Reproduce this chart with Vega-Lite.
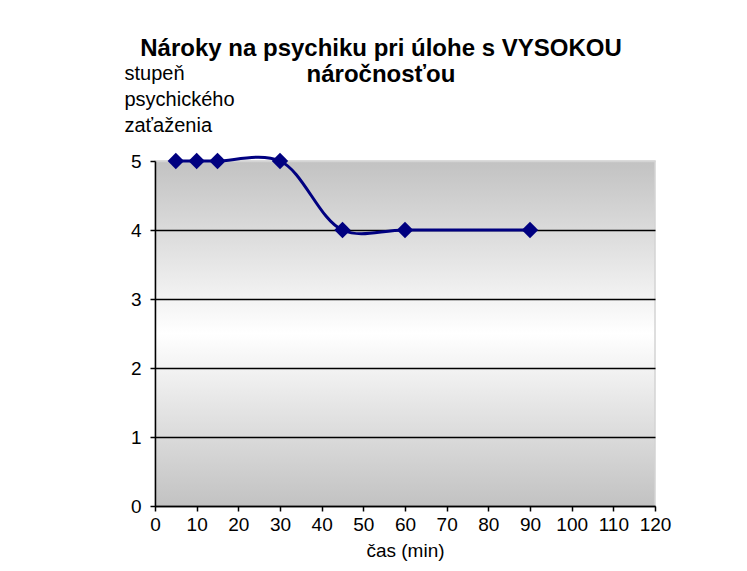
{
  "$schema": "https://vega.github.io/schema/vega-lite/v6.json",
  "width": 500,
  "height": 345,
  "autosize": {"type": "none"},
  "padding": {"left": 155, "top": 161, "right": 92, "bottom": 65},
  "background": "white",
  "config": {
    "font": "Liberation Sans",
    "view": {
      "stroke": "#d4d4d4",
      "strokeWidth": 1.5,
      "fill": {
        "gradient": "linear",
        "x1": 0, "y1": 0, "x2": 0, "y2": 1,
        "stops": [
          {"offset": 0, "color": "#c2c2c2"},
          {"offset": 0.5, "color": "#ffffff"},
          {"offset": 1, "color": "#c2c2c2"}
        ]
      }
    }
  },
  "title": {
    "text": ["Nároky na psychiku pri úlohe s VYSOKOU", "náročnosťou"],
    "font": "Liberation Sans",
    "fontSize": 24,
    "fontWeight": "bold",
    "color": "black",
    "anchor": "middle",
    "dx": -24,
    "lineHeight": 26,
    "offset": -24
  },
  "data": {
    "values": [
      {"cas": 5, "stupen": 5},
      {"cas": 10, "stupen": 5},
      {"cas": 15, "stupen": 5},
      {"cas": 30, "stupen": 5},
      {"cas": 45, "stupen": 4},
      {"cas": 60, "stupen": 4},
      {"cas": 90, "stupen": 4}
    ]
  },
  "layer": [
    {
      "mark": {"type": "line", "interpolate": "catmull-rom", "color": "#000080", "strokeWidth": 3},
      "encoding": {
        "x": {
          "field": "cas",
          "type": "quantitative",
          "scale": {"domain": [0, 120], "nice": false},
          "axis": {
            "values": [0, 10, 20, 30, 40, 50, 60, 70, 80, 90, 100, 110, 120],
            "title": "čas (min)",
            "titleFont": "Liberation Sans",
            "titleFontSize": 19,
            "titleFontWeight": "normal",
            "titleColor": "black",
            "titlePadding": 7,
            "labelFont": "Liberation Sans",
            "labelFontSize": 19,
            "labelColor": "black",
            "labelPadding": 4,
            "labelFlush": false,
            "domainColor": "black",
            "domainWidth": 1.5,
            "tickColor": "black",
            "tickWidth": 1.5,
            "tickSize": 5,
            "grid": false
          }
        },
        "y": {
          "field": "stupen",
          "type": "quantitative",
          "scale": {"domain": [0, 5], "nice": false},
          "axis": {
            "values": [0, 1, 2, 3, 4, 5],
            "format": "d",
            "title": ["stupeň", "psychického", "zaťaženia"],
            "titleFont": "Liberation Sans",
            "titleFontSize": 20,
            "titleFontWeight": "normal",
            "titleColor": "black",
            "titleAngle": 0,
            "titleAlign": "left",
            "titleBaseline": "alphabetic",
            "titleX": -31,
            "titleY": -82,
            "titleLineHeight": 26,
            "labelFont": "Liberation Sans",
            "labelFontSize": 19,
            "labelColor": "black",
            "labelPadding": 9,
            "domainColor": "black",
            "domainWidth": 1.5,
            "tickColor": "black",
            "tickWidth": 1.5,
            "tickSize": 5,
            "grid": true,
            "gridColor": {"condition": {"test": "datum.value === 5", "value": "#d4d4d4"}, "value": "black"},
            "gridWidth": 1.5
          }
        }
      }
    },
    {
      "mark": {"type": "point", "shape": "diamond", "filled": true, "color": "#000080", "size": 270, "opacity": 1},
      "encoding": {
        "x": {"field": "cas", "type": "quantitative"},
        "y": {"field": "stupen", "type": "quantitative"}
      }
    }
  ]
}
